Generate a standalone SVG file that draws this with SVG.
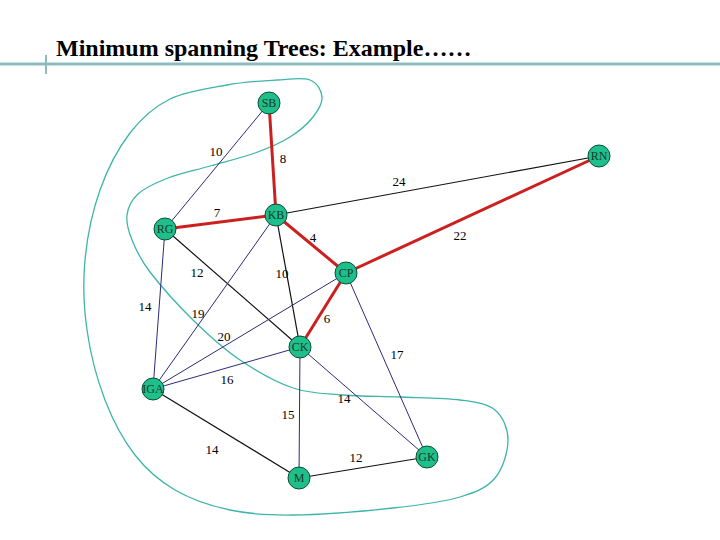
<svg xmlns="http://www.w3.org/2000/svg" width="720" height="540" viewBox="0 0 720 540">
<style>
.title{font-family:"Liberation Serif","Times New Roman",serif;font-weight:bold;font-size:24px;fill:#000}
.rule{stroke:#8bbcc0;fill:none}
.loop{fill:none;stroke:#3db5aa;stroke-width:1.3}
.mst{stroke:#cc2020;stroke-width:3;fill:none}
.nv{stroke:#2b2b78;stroke-width:1;fill:none}
.bk{stroke:#111;stroke-width:1.2;fill:none}
.lbl{font-family:"Liberation Serif","Times New Roman",serif;font-size:13px;fill:#000;text-anchor:middle;dominant-baseline:central}
.node circle{fill:#1fbf8c;stroke:#0b4d33;stroke-width:1}
.node text{font-family:"Liberation Serif","Times New Roman",serif;font-size:12px;fill:#163a2a;text-anchor:middle;dominant-baseline:central}
</style>
<rect width="720" height="540" fill="#fff"/>
<g id="header">
<line class="rule" x1="0" y1="64" x2="720" y2="64" stroke-width="3"/>
<line class="rule" x1="46" y1="55" x2="46" y2="74" stroke-width="2"/>
<text class="title" x="56" y="56">Minimum spanning Trees: Example……</text>
</g>
<path id="cluster" class="loop" d="M277,80 C290.8,79.2 302.5,77.2 310,80 C317.5,82.8 321.5,90.8 322,97 C322.5,103.2 318.3,110.3 313,117 C307.7,123.7 299.7,131 290,137 C280.3,143 268.3,148.2 255,153 C241.7,157.8 224.5,161.8 210,166 C195.5,170.2 180,173.3 168,178 C156,182.7 144.8,187.8 138,194 C131.2,200.2 128,207.3 127,215 C126,222.7 128.2,230.5 132,240 C135.8,249.5 139.8,258.7 150,272 C160.2,285.3 178,305.3 193,320 C208,334.7 223.3,348.7 240,360 C256.7,371.3 275.8,382.2 293,388 C310.2,393.8 325.2,393.5 343,395 C360.8,396.5 380.5,396.2 400,397 C419.5,397.8 444.2,397.8 460,400 C475.8,402.2 487,403.3 495,410 C503,416.7 508,428.7 508,440 C508,451.3 503,468.5 495,478 C487,487.5 477,492 460,497 C443,502 420.8,505 393,508 C365.2,511 320.2,514.7 293,515 C265.8,515.3 249.7,514.2 230,510 C210.3,505.8 190.8,499.2 175,490 C159.2,480.8 146.7,470 135,455 C123.3,440 113,420.8 105,400 C97,379.2 90.3,353.3 87,330 C83.7,306.7 82.8,283.3 85,260 C87.2,236.7 92.5,211.2 100,190 C107.5,168.8 118.3,148.2 130,133 C141.7,117.8 153.8,107 170,99 C186.2,91 209.2,88.2 227,85 C244.8,81.8 263.2,80.8 277,80 Z"/>
<g id="edges">
<line class="nv" x1="269" y1="103" x2="165" y2="229"/>
<line class="bk" x1="276" y1="215" x2="599" y2="156"/>
<line class="nv" x1="165" y1="229" x2="153" y2="389"/>
<line class="bk" x1="165" y1="229" x2="300" y2="347"/>
<line class="nv" x1="276" y1="215" x2="153" y2="389"/>
<line class="bk" x1="276" y1="215" x2="300" y2="347"/>
<line class="nv" x1="346" y1="273" x2="153" y2="389"/>
<line class="nv" x1="346" y1="273" x2="427" y2="457"/>
<line class="nv" x1="300" y1="347" x2="153" y2="389"/>
<line class="nv" x1="300" y1="347" x2="427" y2="457"/>
<line class="nv" x1="300" y1="347" x2="299" y2="478"/>
<line class="bk" x1="153" y1="389" x2="299" y2="478"/>
<line class="bk" x1="299" y1="478" x2="427" y2="457"/>
<line class="mst" x1="269" y1="103" x2="276" y2="215"/>
<line class="mst" x1="165" y1="229" x2="276" y2="215"/>
<line class="mst" x1="276" y1="215" x2="346" y2="273"/>
<line class="mst" x1="346" y1="273" x2="599" y2="156"/>
<line class="mst" x1="346" y1="273" x2="300" y2="347"/>
</g>
<g id="edge-labels">
<text class="lbl" x="216" y="151">10</text>
<text class="lbl" x="283" y="158">8</text>
<text class="lbl" x="399" y="181">24</text>
<text class="lbl" x="217" y="212">7</text>
<text class="lbl" x="313" y="237">4</text>
<text class="lbl" x="460" y="235">22</text>
<text class="lbl" x="197" y="272">12</text>
<text class="lbl" x="282" y="273">10</text>
<text class="lbl" x="145" y="306">14</text>
<text class="lbl" x="198" y="313">19</text>
<text class="lbl" x="224" y="336">20</text>
<text class="lbl" x="327" y="318">6</text>
<text class="lbl" x="397" y="354">17</text>
<text class="lbl" x="227" y="379">16</text>
<text class="lbl" x="344" y="398">14</text>
<text class="lbl" x="288" y="414">15</text>
<text class="lbl" x="212" y="449">14</text>
<text class="lbl" x="356" y="457">12</text>
</g>
<g id="SB" class="node"><circle cx="269" cy="103" r="11"/><text x="269" y="103">SB</text></g>
<g id="RN" class="node"><circle cx="599" cy="156" r="11"/><text x="599" y="156">RN</text></g>
<g id="RG" class="node"><circle cx="165" cy="229" r="11"/><text x="165" y="229">RG</text></g>
<g id="KB" class="node"><circle cx="276" cy="215" r="11"/><text x="276" y="215">KB</text></g>
<g id="CP" class="node"><circle cx="346" cy="273" r="11"/><text x="346" y="273">CP</text></g>
<g id="CK" class="node"><circle cx="300" cy="347" r="11"/><text x="300" y="347">CK</text></g>
<g id="IGA" class="node"><circle cx="153" cy="389" r="11"/><text x="153" y="389">IGA</text></g>
<g id="GK" class="node"><circle cx="427" cy="457" r="11"/><text x="427" y="457">GK</text></g>
<g id="M" class="node"><circle cx="299" cy="478" r="11"/><text x="299" y="478">M</text></g>
</svg>
